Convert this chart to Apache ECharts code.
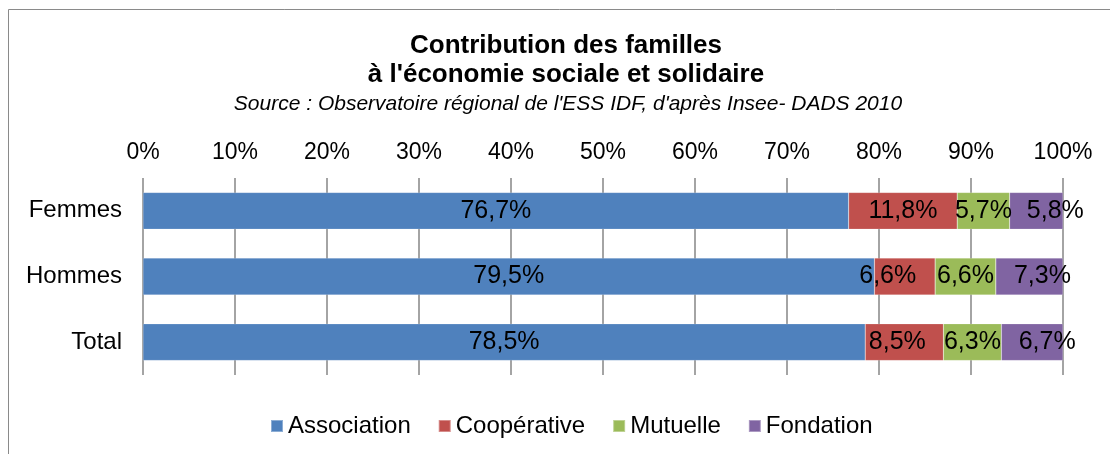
<!DOCTYPE html>
<html>
<head>
<meta charset="utf-8">
<script src="https://cdn.jsdelivr.net/npm/echarts@6/dist/echarts.min.js"></script>
<style>
  body { margin: 0; background: #fff; }
  #chart { width: 1110px; height: 454px; }
</style>
</head>
<body>
<div id="chart"></div>
<script>
const categories = ['Femmes', 'Hommes', 'Total']
const seriesNames = ['Association', 'Coopérative', 'Mutuelle', 'Fondation']
const association = [76.7, 79.5, 78.5]
const cooperative = [11.8, 6.6, 8.5]
const mutuelle = [5.7, 6.6, 6.3]
const fondation = [5.8, 7.3, 6.7]
const colors = ['#4F81BD', '#C0504D', '#9BBB59', '#8064A2']

// horizontal nudges of the data labels (px), as in the original layout
const labelShift = [
  [0, 0, 0],
  [0, -17, -7],
  [0, 0, 0],
  [19, 13, 15]
]

const font = '"Liberation Sans", Arial, sans-serif'
const values = [association, cooperative, mutuelle, fondation]

const chart = echarts.init(document.getElementById('chart'))

const options = {
  animation: false,
  textStyle: { fontFamily: font },
  graphic: [
    {
      type: 'rect',
      shape: { x: 8.5, y: 9.5, width: 1200, height: 600 },
      style: { fill: 'none', stroke: '#8a8a8a', lineWidth: 1 },
      silent: true
    }
  ],
  title: [
    {
      text: "Contribution des familles\nà l'économie sociale et solidaire",
      left: 566,
      top: 31,
      padding: 0,
      textAlign: 'center',
      textStyle: { fontFamily: font, fontSize: 26, fontWeight: 'bold', color: '#000', lineHeight: 29 }
    },
    {
      text: "Source : Observatoire régional de l'ESS IDF, d'après Insee- DADS 2010",
      left: 568,
      top: 93,
      padding: 0,
      textAlign: 'center',
      textStyle: { fontFamily: font, fontSize: 21, fontStyle: 'italic', fontWeight: 'normal', color: '#000', lineHeight: 22 }
    }
  ],
  legend: {
    top: 414,
    left: 270,
    padding: 0,
    itemWidth: 12,
    itemHeight: 12,
    itemGap: 27,
    icon: 'rect',
    textStyle: { fontFamily: font, fontSize: 24, color: '#000' },
    data: seriesNames
  },
  grid: { left: 143, right: 47, top: 178, bottom: 79 },
  xAxis: {
    type: 'value',
    position: 'top',
    min: 0,
    max: 100,
    interval: 10,
    axisLine: { show: false },
    axisTick: { show: false },
    splitLine: { show: true, lineStyle: { color: '#868686', width: 1.5 } },
    axisLabel: {
      formatter: v => v + '%',
      fontFamily: font,
      fontSize: 23,
      color: '#000',
      margin: 14
    }
  },
  yAxis: {
    type: 'category',
    inverse: true,
    data: categories,
    axisLine: { show: false },
    axisTick: { show: false },
    axisLabel: { fontFamily: font, fontSize: 24, color: '#000', margin: 21 }
  },
  series: seriesNames.map((name, i) => ({
    name: name,
    type: 'bar',
    stack: 'total',
    barWidth: '56%',
    data: values[i].map((v, j) => ({ value: v, label: { offset: [labelShift[i][j], 0] } })),
    itemStyle: { color: colors[i], borderColor: 'rgba(255,255,255,0.35)', borderWidth: 0.5 },
    label: {
      show: true,
      position: 'inside',
      formatter: p => String(p.value).replace('.', ',') + '%',
      fontFamily: font,
      fontSize: 25,
      color: '#000'
    }
  }))
}

chart.setOption(options)
</script>
</body>
</html>
